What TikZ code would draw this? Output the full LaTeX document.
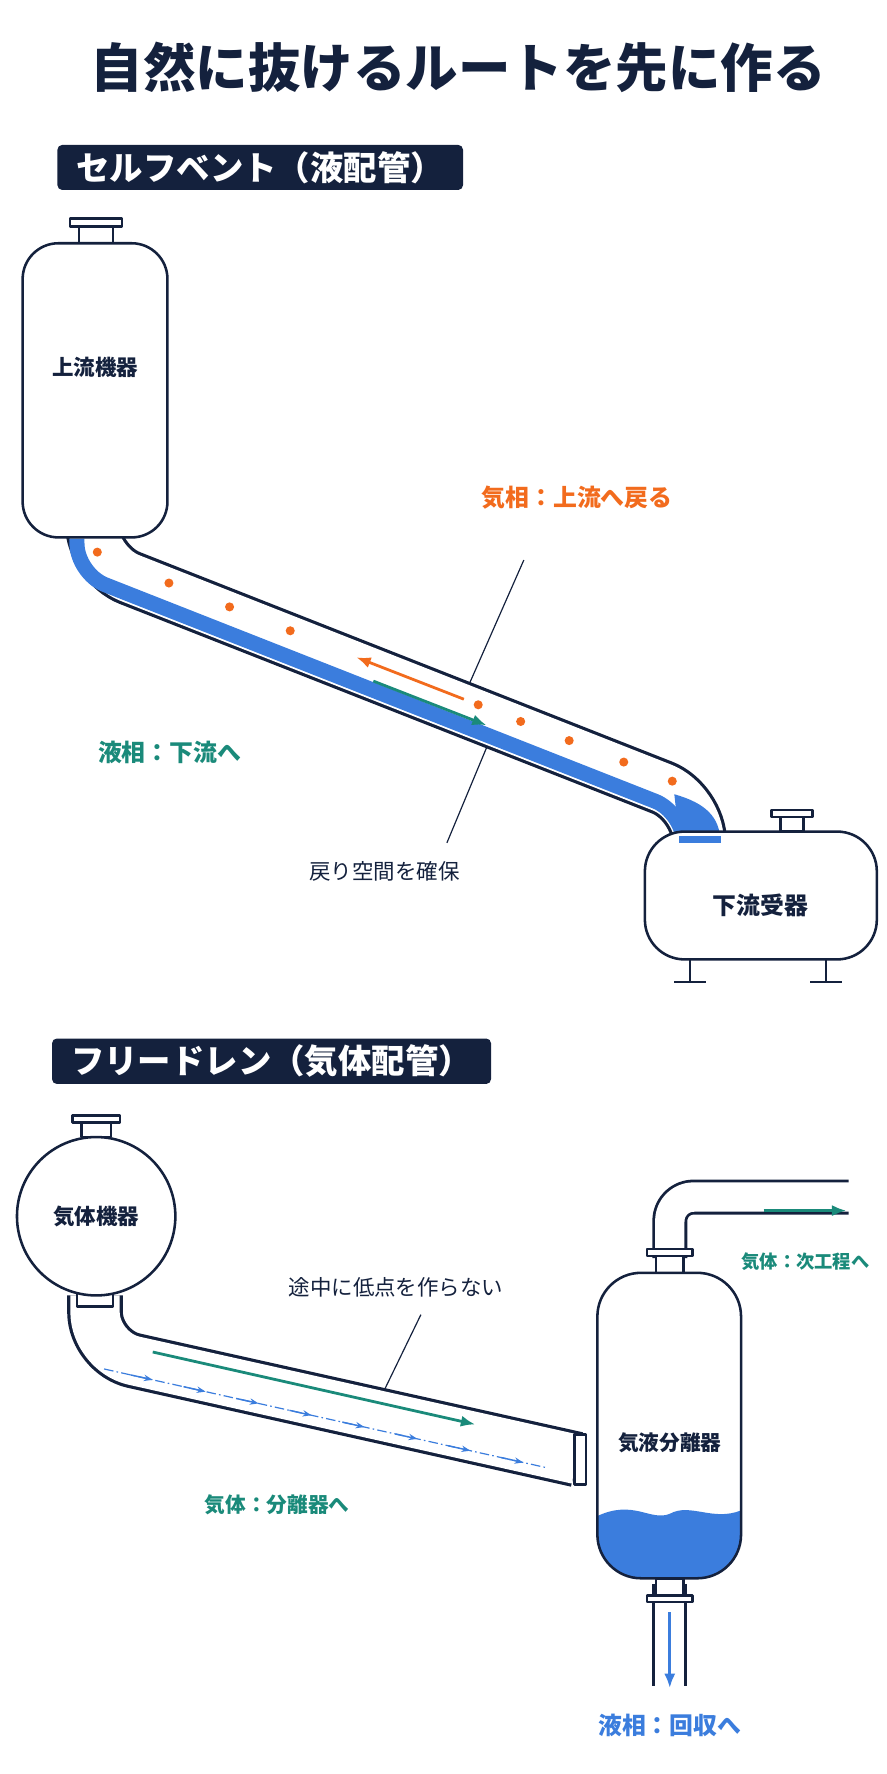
\documentclass[tikz,border=0pt]{standalone}
\usepackage{fontspec}
\setmainfont{Noto Sans CJK JP}
\usetikzlibrary{arrows.meta,calc}
\definecolor{navy}{HTML}{14213D}
\definecolor{orng}{HTML}{F26B1D}
\definecolor{teal2}{HTML}{1A8A7A}
\definecolor{liq}{HTML}{3B7DDD}
\tikzset{
  wall/.style={draw=navy,line width=3.2pt,fill=white},
  pipe/.style={navy,line width=70pt,rounded corners=50pt},
  pipein/.style={white,line width=62pt,rounded corners=50pt},
  head/.style={fill=navy,rounded corners=6pt,text=white,font=\fontsize{42}{46}\selectfont\bfseries,inner xsep=24pt,inner ysep=8pt},
  tag/.style={font=\fontsize{30}{34}\selectfont\bfseries},
  note/.style={font=\fontsize{27}{30}\selectfont},
  flow/.style={line width=3.5pt,-{Latex[length=18pt,width=14pt]}},
}
\begin{document}
\begin{tikzpicture}[x=0.05cm,y=-0.05cm,line join=round]
\useasboundingbox (0,0) rectangle (784,1568);
\node (title) at (405,60) [navy,font=\fontsize{66}{70}\selectfont\bfseries] {自然に抜けるルートを先に作る};

% セルフベント
\node (h1) at (230,148) [head] {セルフベント（液配管）};
% 配管
\draw[pipe] (82,470) -- (82,498) -- (618,709) -- (618,748);
\draw[pipein] (82,470) -- (82,498) -- (618,709) -- (618,748);
\draw[liq,line width=19pt,rounded corners=38pt] (68,476) -- (68,507) -- (604,718) -- (604,742);
\fill[liq] (596,702) .. controls (624,710) and (636,722) .. (637,744) -- (600,744) -- (598,720) -- cycle;
% 上流機器
\draw[wall] (70,215) rectangle (100,200);
\draw[wall] (62,200) rectangle (108,193);
\draw[wall,rounded corners=45pt] (20,215) rectangle (148,475);
\node (up) at (84,325) [tag,font=\fontsize{27}{30}\selectfont\bfseries,navy] {上流機器};
% 下流受器
\draw[wall] (690,735) rectangle (710,722);
\draw[wall] (682,722) rectangle (718,716);
\foreach \lx in {610,730}{
  \draw[navy,line width=3.2pt] (\lx,845) -- (\lx,868);
  \draw[navy,line width=3.2pt] (\lx-14,868) -- (\lx+14,868);}
\draw[wall,rounded corners=50pt] (570,735) rectangle (775,848);
\fill[liq] (600,739) rectangle (637,745);
\node (down) at (672,800) [tag,navy] {下流受器};
% 気相・液相
\coordinate (c1) at (82,498); \coordinate (c2) at (618,709);
\fill[orng] (86,488) circle (4);
\foreach \t in {0.12,0.22,0.32,0.63,0.70,0.78,0.87,0.95}
  \fill[orng] ($(c1)!\t!(c2)+(3,-8)$) circle (4);
\coordinate (ga) at (410,618); \coordinate (gb) at (315,581);
\draw[flow,orng] (ga) -- (gb);
\coordinate (la) at (330,602); \coordinate (lb) at (430,641);
\draw[flow,teal2] (la) -- (lb);
\node (vap) at (510,440) [tag,orng] {気相：上流へ戻る};
\coordinate (v1) at (463,495); \coordinate (v2) at (415,604);
\draw[navy,line width=1.5pt] (v1) -- (v2);
\node (liqt) at (150,665) [tag,teal2] {液相：下流へ};
\node (keep) at (340,770) [note,navy] {戻り空間を確保};
\coordinate (k1) at (430,661); \coordinate (k2) at (395,745);
\draw[navy,line width=1.5pt] (k1) -- (k2);

% フリードレン
\node (h2) at (240,938) [head] {フリードレン（気体配管）};
\draw[pipe] (84,1145) -- (84,1195) -- (510,1290);
\draw[pipein] (84,1145) -- (84,1195) -- (510,1290);
% 気体機器
\draw[wall] (68,1140) rectangle (100,1155);
\draw[wall] (72,1005) rectangle (98,992);
\draw[wall] (64,992) rectangle (106,986);
\draw[wall] (85,1075) circle (70);
\node (gasv) at (85,1075) [tag,navy,font=\fontsize{27}{30}\selectfont\bfseries] {気体機器};
% 気液分離器
\draw[pipe,line width=44pt,rounded corners=30pt] (592,1112) -- (592,1058) -- (750,1058);
\draw[pipein,line width=37pt,rounded corners=30pt] (592,1115) -- (592,1058) -- (752,1058);
\draw[pipe,line width=44pt] (592,1400) -- (592,1490);
\draw[pipein,line width=37pt] (592,1398) -- (592,1492);
\draw[wall] (580,1125) rectangle (604,1110);
\draw[wall] (572,1110) rectangle (612,1104);
\draw[wall] (508,1268) rectangle (518,1312);
\begin{scope}
\clip[rounded corners=55pt] (528,1125) rectangle (655,1395);
\fill[white] (528,1125) rectangle (655,1395);
\fill[liq] (528,1340) .. controls (560,1325) and (575,1345) .. (592,1338)
  .. controls (610,1328) and (630,1345) .. (655,1335) -- (655,1400) -- (528,1400) -- cycle;
\end{scope}
\draw[navy,line width=3.2pt,rounded corners=55pt] (528,1125) rectangle (655,1395);
\draw[wall] (580,1395) rectangle (604,1410);
\draw[wall] (572,1410) rectangle (612,1416);
\node (sep) at (592,1275) [tag,navy,font=\fontsize{26}{30}\selectfont\bfseries] {気液分離器};
% 流れ
\coordinate (s1) at (135,1195); \coordinate (s2) at (420,1259);
\draw[flow,teal2] (s1) -- (s2);
\coordinate (d1) at (92,1210); \coordinate (d2) at (482,1297);
\draw[liq,line width=1.5pt,dash pattern=on 12pt off 4pt on 2pt off 4pt] (d1) -- (d2);
\foreach \t in {0.06,0.18,...,1.0}
  \draw[liq,line width=1.8pt,-{Stealth[length=11pt,width=8pt]}] ($(d1)!\t!(d2)$) -- ($(d1)!\t+0.05!(d2)$);
\coordinate (o1) at (675,1070); \coordinate (o2) at (748,1070);
\draw[flow,teal2] (o1) -- (o2);
\coordinate (r1) at (592,1425); \coordinate (r2) at (592,1492);
\draw[flow,liq] (r1) -- (r2);
\node (nolow) at (350,1138) [note,navy] {途中に低点を作らない};
\coordinate (n1) at (340,1228); \coordinate (n2) at (372,1162);
\draw[navy,line width=1.5pt] (n1) -- (n2);
\node (gsep) at (245,1330) [tag,teal2,font=\fontsize{26}{30}\selectfont\bfseries] {気体：分離器へ};
\node (gnext) at (712,1115) [teal2,font=\fontsize{23}{26}\selectfont\bfseries] {気体：次工程へ};
\node (lrec) at (592,1525) [tag,liq] {液相：回収へ};
\end{tikzpicture}
\end{document}
